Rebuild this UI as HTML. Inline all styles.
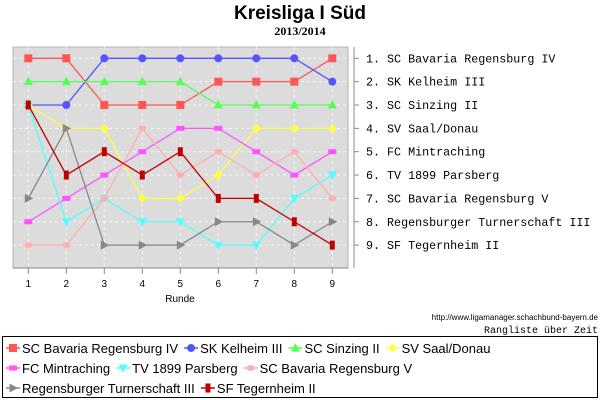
<!DOCTYPE html>
<html><head><meta charset="utf-8"><style>
body{margin:0;background:#fff;}
svg{display:block;font-family:"Liberation Sans",sans-serif;}
</style></head><body>
<svg id="c" width="600" height="400">
<text x="300" y="19" text-anchor="middle" font-size="19" font-weight="bold">Kreisliga I Süd</text>
<text x="300" y="35" text-anchor="middle" font-size="12" font-weight="bold" font-family="Liberation Serif, serif">2013/2014</text>
<rect x="13" y="47" width="335" height="221" fill="#dcdcdc" stroke="#b4b4b4"/>
<g id="grid"></g>
<line x1="13" y1="268" x2="348" y2="268" stroke="#888"/>
<line x1="354" y1="47" x2="354" y2="268" stroke="#888"/>
<g id="ticks"></g>
<text x="180" y="302" text-anchor="middle" font-size="10">Runde</text>
<g id="series"></g>
<g id="rlabels" font-family="Liberation Mono, monospace" font-size="11.7"></g>
<text x="598" y="320" text-anchor="end" font-size="8">http://www.ligamanager.schachbund-bayern.de</text>
<text x="598" y="333" text-anchor="end" font-size="10" font-family="Liberation Mono, monospace">Rangliste über Zeit</text>
<rect x="2.5" y="336.5" width="595" height="61" fill="#fff" stroke="#000"/>
<g id="legend" font-size="13"></g>
</svg>
<script>
const rounds=[1,2,3,4,5,6,7,8,9];
const teams=["SC Bavaria Regensburg IV","SK Kelheim III","SC Sinzing II","SV Saal/Donau","FC Mintraching","TV 1899 Parsberg","SC Bavaria Regensburg V","Regensburger Turnerschaft III","SF Tegernheim II"];
const colors=["#ff5555","#5555ff","#55ff55","#ffff44","#ff55ff","#55ffff","#ffb0b0","#888888","#c00000"];
const markers=["square","circle","tri-up","diamond","rect","tri-down","ellipse","tri-right","bar"];
const rankBavIV=[1,1,3,3,3,2,2,2,1];
const rankKelheim=[3,3,1,1,1,1,1,1,2];
const rankSinzing=[2,2,2,2,2,3,3,3,3];
const rankSaal=[3,4,4,7,7,6,4,4,4];
const rankMintraching=[8,7,6,5,4,4,5,6,5];
const rankParsberg=[3,8,7,8,8,9,9,7,6];
const rankBavV=[9,9,7,4,6,5,6,5,7];
const rankTurnerschaft=[7,4,9,9,9,8,8,9,8];
const rankTegernheim=[3,6,5,6,5,7,7,8,9];
const finalLabels=["1. SC Bavaria Regensburg IV","2. SK Kelheim III","3. SC Sinzing II","4. SV Saal/Donau","5. FC Mintraching","6. TV 1899 Parsberg","7. SC Bavaria Regensburg V","8. Regensburger Turnerschaft III","9. SF Tegernheim II"];
const series=[rankBavIV,rankKelheim,rankSinzing,rankSaal,rankMintraching,rankParsberg,rankBavV,rankTurnerschaft,rankTegernheim];
const NS="http://www.w3.org/2000/svg";
const X=r=>28.3+(r-1)*38;
const Y=k=>58.3+(k-1)*23.35;
function mk(t,a,p){const e=document.createElementNS(NS,t);for(const k in a)e.setAttribute(k,a[k]);p.appendChild(e);return e;}
function marker(type,x,y,c,p){
 let e;
 if(type==="square")e=mk("rect",{x:x-4,y:y-4,width:8,height:8,fill:c},p);
 else if(type==="circle")e=mk("circle",{cx:x,cy:y,r:4,fill:c},p);
 else if(type==="tri-up")e=mk("polygon",{points:`${x},${y-5} ${x-4.5},${y+3.5} ${x+4.5},${y+3.5}`,fill:c},p);
 else if(type==="tri-down")e=mk("polygon",{points:`${x-4.5},${y-3.5} ${x+4.5},${y-3.5} ${x},${y+5}`,fill:c},p);
 else if(type==="tri-right")e=mk("polygon",{points:`${x-3.5},${y-4.5} ${x-3.5},${y+4.5} ${x+5},${y}`,fill:c},p);
 else if(type==="diamond")e=mk("polygon",{points:`${x},${y-4.5} ${x+4.5},${y} ${x},${y+4.5} ${x-4.5},${y}`,fill:c},p);
 else if(type==="rect")e=mk("rect",{x:x-4,y:y-2.5,width:8,height:5,fill:c},p);
 else if(type==="ellipse")e=mk("ellipse",{cx:x,cy:y,rx:4,ry:3,fill:c},p);
 else e=mk("rect",{x:x-2.5,y:y-4.5,width:5,height:9,fill:c},p);
 return e;
}
const grid=document.getElementById("grid"),ticks=document.getElementById("ticks");
rounds.forEach(r=>{
 const g=mk("line",{x1:X(r),y1:47,x2:X(r),y2:268,stroke:"#fff","stroke-dasharray":"3,3","stroke-opacity":"0.7"},grid);
 
 
 const t=mk("line",{x1:X(r),y1:268,x2:X(r),y2:274,stroke:"#888"},ticks);
 
 
 const l=mk("text",{x:X(r),y:287,"text-anchor":"middle","font-size":"10"},ticks);
 l.textContent=r;
 
 
});
for(let k=1;k<=9;k++){
 const g=mk("line",{x1:13,y1:Y(k),x2:348,y2:Y(k),stroke:"#fff","stroke-dasharray":"3,3","stroke-opacity":"0.7"},grid);
 
 
 const t=mk("line",{x1:354,y1:Y(k),x2:359,y2:Y(k),stroke:"#888"},ticks);
 
 
}
const sg=document.getElementById("series");
series.forEach((d,i)=>{
 const g=mk("g",{},sg);
 
 
 const pl=mk("polyline",{points:d.map((v,j)=>X(rounds[j])+","+Y(v)).join(" "),fill:"none",stroke:colors[i],"stroke-width":"1.3"},g);
 
 
 d.forEach((v,j)=>{
  const m=marker(markers[i],X(rounds[j]),Y(v),colors[i],g);
  
  
 });
});
const rl=document.getElementById("rlabels");
finalLabels.forEach((s,k)=>{
 const t=mk("text",{x:366,y:Y(k+1)+4},rl);
 t.textContent=s;
 
 
});
const lg=document.getElementById("legend");
const rows=[[0,1,2,3],[4,5,6],[7,8]];
const rowY=[348,368,388];
const ctx=document.createElement("canvas").getContext("2d");
ctx.font="13px 'Liberation Sans', sans-serif";
rows.forEach((row,ri)=>{
 let x=6;
 row.forEach(i=>{
  const g=mk("g",{},lg);
  
  
  mk("line",{x1:x,y1:rowY[ri],x2:x+14,y2:rowY[ri],stroke:colors[i],"stroke-width":"1.5"},g);
  marker(markers[i],x+7,rowY[ri],colors[i],g);
  const t=mk("text",{x:x+16,y:rowY[ri]+5},g);
  t.textContent=teams[i];
  x+=16+ctx.measureText(teams[i]).width+6;
 });
});
</script>
</body></html>
